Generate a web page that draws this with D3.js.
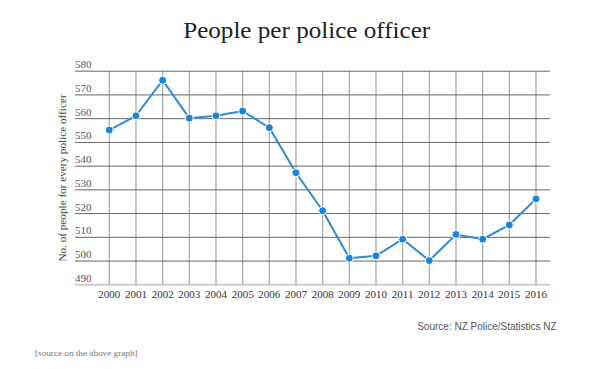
<!DOCTYPE html>
<html><head><meta charset="utf-8">
<script src="https://cdn.jsdelivr.net/npm/d3@7"></script>
<style>body{margin:0;background:#fff}svg{display:block}</style>
</head><body>
<script>
const years = ["2000","2001","2002","2003","2004","2005","2006","2007","2008","2009","2010","2011","2012","2013","2014","2015","2016"];
const peoplePerOfficer = [555,561,576,560,561,563,556,537,521,501,502,509,500,511,509,515,526];
const yTicks = [490,500,510,520,530,540,550,560,570,580];

const W=600,H=369;
const svg=d3.select("body").append("svg").attr("width",W).attr("height",H);
const x=d3.scalePoint().domain(years).range([109.3,536]);
const y=d3.scaleLinear().domain([490,580]).range([284.3,70.7]);
const gx0=75, gx1=550;
const serif="'Liberation Serif','DejaVu Serif',serif";

// vertical grid
svg.append("g").selectAll("line").data(years).join("line")
  .attr("x1",d=>x(d)).attr("x2",d=>x(d)).attr("y1",y(580)).attr("y2",y(490))
  .attr("stroke","#aaa").attr("stroke-width",1.3);
// horizontal grid
svg.append("g").selectAll("line").data(yTicks.filter(t=>t>490)).join("line")
  .attr("x1",gx0).attr("x2",gx1).attr("y1",d=>y(d)+0.5).attr("y2",d=>y(d)+0.5)
  .attr("stroke","#666").attr("stroke-width",1);
// bottom axis
svg.append("line").attr("x1",gx0).attr("x2",gx1).attr("y1",y(490)+0.5).attr("y2",y(490)+0.5)
  .attr("stroke","#ccc").attr("stroke-width",2);

// y labels
svg.append("g").selectAll("text").data(yTicks).join("text")
  .attr("x",gx0).attr("y",d=>y(d)-2.5).text(d=>d)
  .attr("font-family",serif).attr("font-size",11).attr("fill","#555");
// x labels
svg.append("g").selectAll("text").data(years).join("text")
  .attr("x",d=>x(d)).attr("y",298).attr("text-anchor","middle").text(d=>d)
  .attr("font-family",serif).attr("font-size",11).attr("fill","#333");

// line
const pts=years.map((yr,i)=>({yr,v:peoplePerOfficer[i]}));
svg.append("path").datum(pts)
  .attr("d",d3.line().x(d=>x(d.yr)).y(d=>y(d.v)))
  .attr("fill","none").attr("stroke","#2a8ad6").attr("stroke-width",2);
svg.append("g").selectAll("circle").data(pts).join("circle")
  .attr("cx",d=>x(d.yr)).attr("cy",d=>y(d.v)).attr("r",4)
  .attr("fill","#1a84d8").attr("stroke","#fff").attr("stroke-width",1);

// title
svg.append("text").attr("x",306.7).attr("y",37.5).attr("text-anchor","middle")
  .attr("font-family",serif).attr("font-size",23.5).attr("fill","#222")
  .attr("textLength",247).attr("lengthAdjust","spacingAndGlyphs")
  .text("People per police officer");
// y title
svg.append("text").attr("transform","translate(66,178) rotate(-90)")
  .attr("text-anchor","middle").attr("font-family",serif).attr("font-size",11.2).attr("fill","#444")
  .text("No. of people for every police officer");
// source
svg.append("text").attr("x",556.7).attr("y",329.5).attr("text-anchor","end")
  .attr("font-family","'Liberation Sans',Arial,sans-serif").attr("font-size",10).attr("fill","#555")
  .text("Source: NZ Police/Statistics NZ");
svg.append("text").attr("x",35).attr("y",356).attr("font-family",serif).attr("font-size",9.2).attr("fill","#777")
  .text("[source on the above graph]");
</script>
</body></html>
